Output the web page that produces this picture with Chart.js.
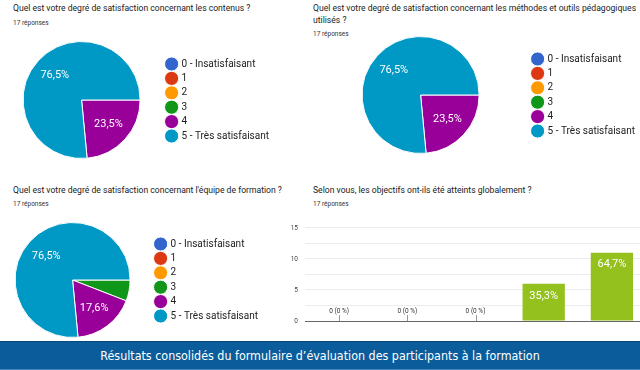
<!DOCTYPE html>
<html>
<head>
<meta charset="utf-8">
<script src="https://cdn.jsdelivr.net/npm/chart.js@4.4.1/dist/chart.umd.min.js"></script>
<style>
  html, body { margin: 0; padding: 0; background: #fff; }
  body { width: 640px; height: 370px; position: relative; overflow: hidden; font-family: Roboto, Arial, sans-serif; color: #202124; }
  .box { position: absolute; }
  .q { position: absolute; font-size: 8.6px; line-height: 12px; white-space: nowrap; }
  .n { position: absolute; font-size: 6.5px; color: #333; white-space: nowrap; }
  #footer { position: absolute; left: 0; top: 341px; width: 640px; height: 27px; background: #0b5c9b;
            border-top: 1px solid #08497d; border-bottom: 1px solid #4a86bd;
            color: #fff; font-family: "Liberation Sans Narrow", "DejaVu Sans Condensed", sans-serif; font-size: 12.4px;
            line-height: 27px; text-align: center; }
</style>
</head>
<body>
<div class="q" style="left:13px;top:2px">Quel est votre degré de satisfaction concernant les contenus ?</div>
<div class="n" style="left:13px;top:19px">17 réponses</div>

<div class="q" style="left:313px;top:2px">Quel est votre degré de satisfaction concernant les méthodes et outils pédagogiques<br>utilisés ?</div>
<div class="n" style="left:313px;top:30px">17 réponses</div>

<div class="q" style="left:13px;top:184px">Quel est votre degré de satisfaction concernant l'équipe de formation ?</div>
<div class="n" style="left:13px;top:200px">17 réponses</div>

<div class="q" style="left:313px;top:184px">Selon vous, les objectifs ont-ils été atteints globalement ?</div>
<div class="n" style="left:313px;top:200px">17 réponses</div>

<canvas id="pie1" class="box"></canvas>
<canvas id="pie2" class="box"></canvas>
<canvas id="pie3" class="box"></canvas>
<canvas id="bar1" class="box"></canvas>

<div id="footer">Résultats consolidés du formulaire d’évaluation des participants à la formation</div>

<script>
'use strict'

// answers
const answerLabels = ['0 - Insatisfaisant', '1', '2', '3', '4', '5 - Très satisfaisant']
const answerColors = ['#3366cc', '#dc3912', '#ff9900', '#109618', '#990099', '#0099c6']

// pies, in percent
const contenusPct = [0, 0, 0, 0, 23.5, 76.5]
const methodesPct = [0, 0, 0, 0, 23.5, 76.5]
const equipePct = [0, 0, 0, 5.9, 17.6, 76.5]

// bar chart
const objectifsCats = ['1', '2', '3', '4', '5']
const objectifsCount = [0, 0, 0, 6, 11]
const objectifsPct = [0, 0, 0, 35.3, 64.7]
const yTickLabels = ['0', '5', '10', '15']

const fmt = v => v.toFixed(1).replace('.', ',') + '%'

const pieLabels = {
    id: 'pieLabels',
    afterDatasetsDraw(chart) {
        const ctx = chart.ctx
        const data = chart.data.datasets[0].data
        ctx.save()
        ctx.fillStyle = '#fff'
        ctx.font = '11px Roboto'
        ctx.textAlign = 'center'
        ctx.textBaseline = 'middle'
        chart.getDatasetMeta(0).data.forEach((arc, i) => {
            if (data[i] < 10) return
            const p = arc.getProps(['x', 'y', 'startAngle', 'endAngle', 'outerRadius'], true)
            const mid = (p.startAngle + p.endAngle) / 2
            ctx.fillText(fmt(data[i]), p.x + Math.cos(mid) * p.outerRadius * 0.62, p.y + Math.sin(mid) * p.outerRadius * 0.62)
        })
        ctx.restore()
    }
}

// legend width as chart.js computes it (padding + box + gap + text + 10)
const LEGEND_PAD = 4.4
const measure = document.createElement('canvas').getContext('2d')
measure.font = '10px Roboto'
const legendTextW = Math.max(...answerLabels.map(l => measure.measureText(l).width))
const legendW = LEGEND_PAD + 10 + 5 + legendTextW + 10

// cx, cy, r: pie centre and radius, mx: legend marker centre
function makePie(id, values, cx, cy, r, mx) {
    const canvas = document.getElementById(id)
    const legendLeft = mx - 5 - LEGEND_PAD
    const left = 2 * cx - legendLeft
    const width = Math.ceil(legendLeft - left + legendW)
    const height = 2 * r + 4
    canvas.style.left = left + 'px'
    canvas.style.top = (cy - r - 2) + 'px'
    canvas.width = width
    canvas.height = height
    canvas.style.width = width + 'px'
    canvas.style.height = height + 'px'
    return new Chart(canvas, {
        type: 'pie',
        data: {
            labels: answerLabels,
            datasets: [{
                data: values,
                backgroundColor: answerColors,
                borderColor: '#fff',
                borderWidth: 1
            }]
        },
        options: {
            responsive: false,
            animation: false,
            rotation: 90,
            layout: { padding: { left: 0, right: 0, top: 2, bottom: 2 } },
            plugins: {
                tooltip: { enabled: false },
                legend: {
                    position: 'right',
                    labels: {
                        usePointStyle: true,
                        pointStyle: 'circle',
                        boxWidth: 10,
                        boxHeight: 10,
                        padding: LEGEND_PAD,
                        color: '#222',
                        font: { family: 'Roboto', size: 10 }
                    }
                }
            }
        },
        plugins: [pieLabels]
    })
}

makePie('pie1', contenusPct, 82, 100, 59, 172)
makePie('pie2', methodesPct, 421, 95, 59, 538)
makePie('pie3', equipePct, 73, 280, 58, 161)

const barLabels = {
    id: 'barLabels',
    afterDatasetsDraw(chart) {
        const ctx = chart.ctx
        const base = chart.scales.y.getPixelForValue(0)
        ctx.save()
        ctx.textAlign = 'center'
        ctx.textBaseline = 'middle'
        chart.getDatasetMeta(0).data.forEach((bar, i) => {
            if (objectifsCount[i] > 0) {
                ctx.fillStyle = '#fff'
                ctx.font = '11px Roboto'
                ctx.fillText(fmt(objectifsPct[i]), bar.x, bar.y + 12)
            } else {
                ctx.strokeStyle = '#999'
                ctx.lineWidth = 1
                ctx.beginPath()
                ctx.moveTo(Math.round(bar.x) + 0.5, base)
                ctx.lineTo(Math.round(bar.x) + 0.5, base - 6)
                ctx.stroke()
                ctx.fillStyle = '#333'
                ctx.font = '6.5px Roboto'
                ctx.fillText(objectifsCount[i] + ' (' + objectifsPct[i] + ' %)', bar.x, base - 10)
            }
        })
        ctx.restore()
    }
}

const barCanvas = document.getElementById('bar1')
barCanvas.style.left = '290px'
barCanvas.style.top = '217px'
barCanvas.width = 356
barCanvas.height = 116
barCanvas.style.width = '356px'
barCanvas.style.height = '116px'

new Chart(barCanvas, {
    type: 'bar',
    data: {
        labels: objectifsCats,
        datasets: [{
            data: objectifsCount,
            backgroundColor: '#95c11f',
            barPercentage: 0.62,
            categoryPercentage: 1
        }]
    },
    options: {
        responsive: false,
        animation: false,
        layout: { padding: { top: 5, right: 0, left: 0, bottom: 0 } },
        plugins: { legend: { display: false }, tooltip: { enabled: false } },
        scales: {
            x: {
                grid: { display: false },
                border: { display: false },
                ticks: { padding: 3, color: '#333', font: { family: 'Roboto', size: 6.5 } },
                afterFit: s => { s.height = 12 }
            },
            y: {
                min: 0,
                max: 15,
                border: { display: false },
                grid: {
                    drawTicks: false,
                    color: c => c.tick.value === 0 ? '#666' : '#ececec'
                },
                ticks: {
                    stepSize: 2.5,
                    padding: 7,
                    color: '#444',
                    font: { family: 'Roboto', size: 6.5 },
                    callback: v => yTickLabels.includes(String(v)) ? String(v) : ''
                },
                afterFit: s => { s.width = 15 }
            }
        }
    },
    plugins: [barLabels]
})
</script>
</body>
</html>
